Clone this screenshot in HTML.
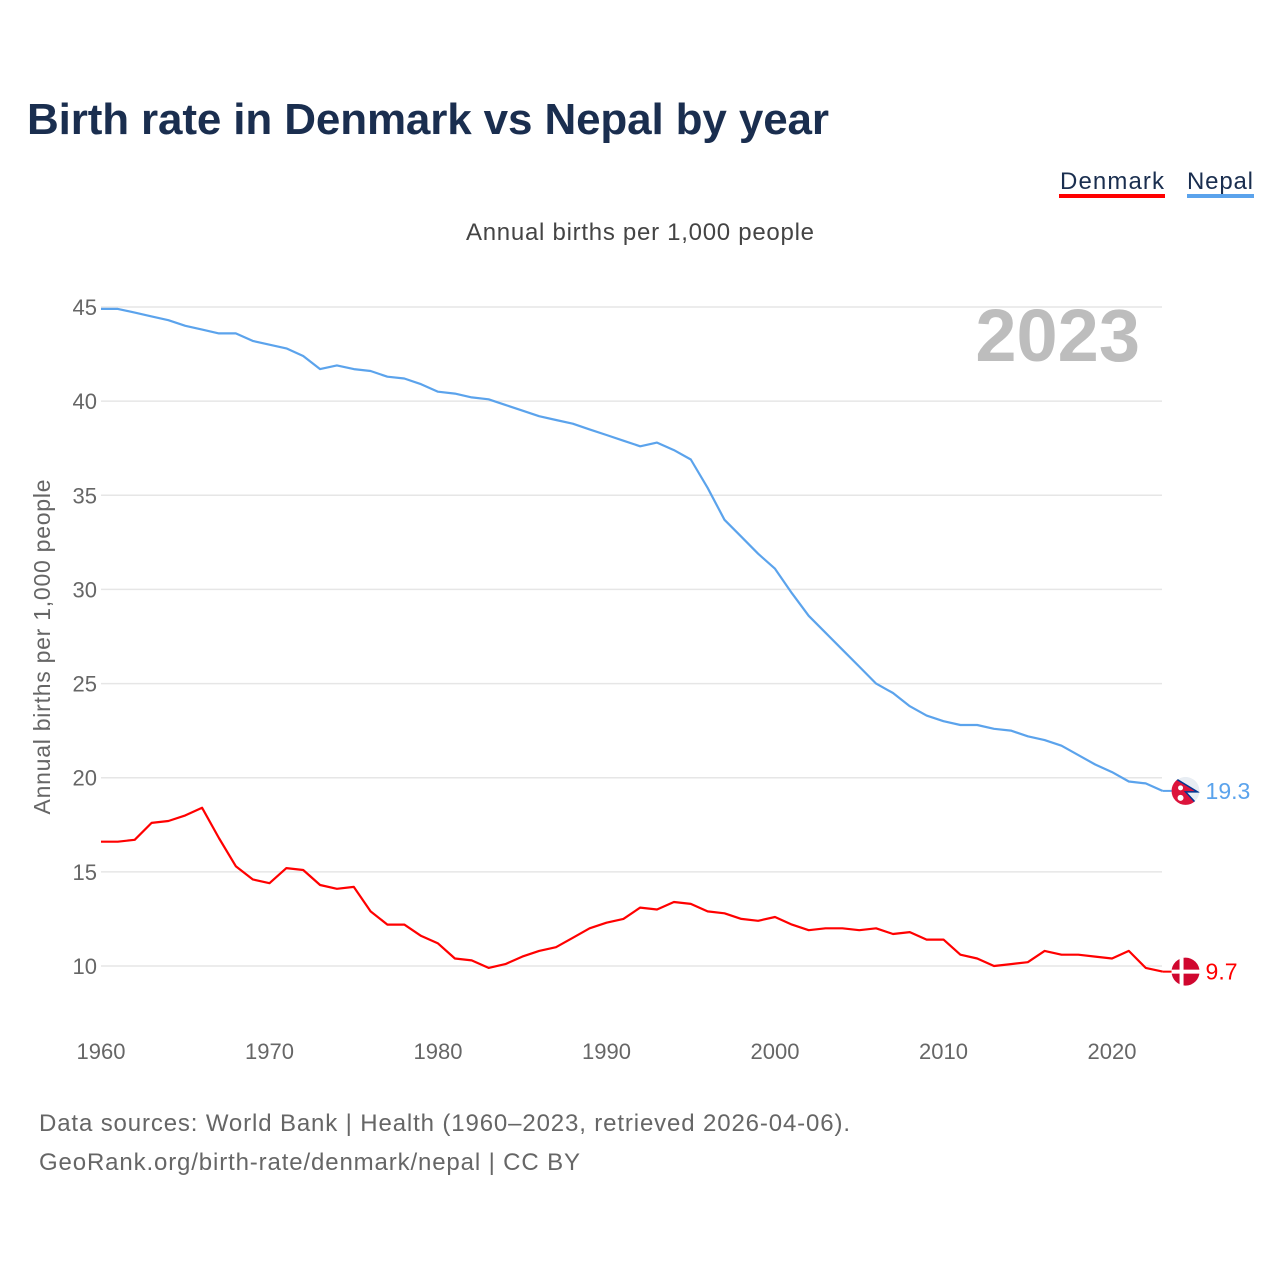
<!DOCTYPE html>
<html><head><meta charset="utf-8"><style>
body{margin:0;background:#fff;font-family:"Liberation Sans",sans-serif}
</style></head><body>
<svg id="chart" width="1280" height="1280" xmlns="http://www.w3.org/2000/svg" font-family="Liberation Sans, sans-serif">
<defs><clipPath id="npclip"><circle id="npcc" r="14"/></clipPath></defs>
<rect width="1280" height="1280" fill="#fff"/>
<text x="27" y="134" font-size="44" font-weight="bold" fill="#1a2e4f" textLength="802">Birth rate in Denmark vs Nepal by year</text>
<g><text x="1164" y="189" font-size="24" fill="#1a2e4f" text-anchor="end" textLength="104">Denmark</text><rect x="1059" y="194" width="106" height="4" fill="#ff0000"/></g>
<g><text x="1253" y="189" font-size="24" fill="#1a2e4f" text-anchor="end" textLength="66">Nepal</text><rect x="1187" y="194" width="67" height="4" fill="#5ba3ec"/></g>
<text x="640" y="240" font-size="24" fill="#444" text-anchor="middle" textLength="348">Annual births per 1,000 people</text>
<text transform="translate(50,647) rotate(-90)" font-size="23" fill="#666" text-anchor="middle" textLength="335">Annual births per 1,000 people</text>
<text x="1140" y="361" font-size="74" font-weight="bold" fill="#bdbdbd" text-anchor="end">2023</text>
<g id="grid"></g><g id="xt"></g><g id="lines"></g>
<text x="39" y="1131" font-size="24" fill="#666" textLength="811">Data sources: World Bank | Health (1960–2023, retrieved 2026-04-06).</text>
<text x="39" y="1170" font-size="24" fill="#666" textLength="541">GeoRank.org/birth-rate/denmark/nepal | CC BY</text>
</svg>
<script>
const years=[];for(let y=1960;y<=2023;y++)years.push(y);
const yTicks=[10,15,20,25,30,35,40,45];
const xTicks=[1960,1970,1980,1990,2000,2010,2020];
const denmark=[16.6,16.6,16.7,17.6,17.7,18.0,18.4,16.8,15.3,14.6,14.4,15.2,15.1,14.3,14.1,14.2,12.9,12.2,12.2,11.6,11.2,10.4,10.3,9.9,10.1,10.5,10.8,11.0,11.5,12.0,12.3,12.5,13.1,13.0,13.4,13.3,12.9,12.8,12.5,12.4,12.6,12.2,11.9,12.0,12.0,11.9,12.0,11.7,11.8,11.4,11.4,10.6,10.4,10.0,10.1,10.2,10.8,10.6,10.6,10.5,10.4,10.8,9.9,9.7];
const nepal=[44.9,44.9,44.7,44.5,44.3,44.0,43.8,43.6,43.6,43.2,43.0,42.8,42.4,41.7,41.9,41.7,41.6,41.3,41.2,40.9,40.5,40.4,40.2,40.1,39.8,39.5,39.2,39.0,38.8,38.5,38.2,37.9,37.6,37.8,37.4,36.9,35.4,33.7,32.8,31.9,31.1,29.8,28.6,27.7,26.8,25.9,25.0,24.5,23.8,23.3,23.0,22.8,22.8,22.6,22.5,22.2,22.0,21.7,21.2,20.7,20.3,19.8,19.7,19.3];
const NS="http://www.w3.org/2000/svg";
const X=y=>101+(y-1960)*(1112-101)/60;
const Y=v=>966-(v-10)*(966-307)/35;
function mk(t,a,p){const e=document.createElementNS(NS,t);for(const k in a)e.setAttribute(k,a[k]);p.appendChild(e);return e;}
const grid=document.getElementById('grid');
yTicks.forEach(v=>{
 const l=mk('line',{x1:101,x2:1162,y1:Y(v),y2:Y(v),stroke:'#e6e6e6','stroke-width':1.5},grid);
 
 
 const t=mk('text',{x:97,y:Y(v)+8,'font-size':22,fill:'#666','text-anchor':'end'},grid);t.textContent=v;
 
 
});
const xt=document.getElementById('xt');
xTicks.forEach(v=>{
 const t=mk('text',{x:X(v),y:1059,'font-size':22,fill:'#666','text-anchor':'middle'},xt);t.textContent=v;
 
 
});
const lines=document.getElementById('lines');
function series(d,c,name){
 const p=mk('path',{d:d.map((v,i)=>(i?'L':'M')+X(years[i]).toFixed(1)+','+Y(v).toFixed(1)).join(''),fill:'none',stroke:c,'stroke-width':2.2,'stroke-linejoin':'round'},lines);
 
 
 const lx=X(2023),ly=Y(d[d.length-1]);
 mk('line',{x1:lx,x2:lx+10,y1:ly,y2:ly,stroke:c,'stroke-width':2},lines);
 const t=mk('text',{x:lx+43,y:ly+8,'font-size':23,fill:c},lines);t.textContent=d[d.length-1];
 
 
 return [lx+23,ly];
}
const [nx,ny]=series(nepal,'#5ba3ec','nepal-line');
const [dx,dy]=series(denmark,'#ff0000','denmark-line');
const cc=document.getElementById('npcc');cc.setAttribute('cx',nx);cc.setAttribute('cy',ny);
const nf=mk('g',{'clip-path':'url(#npclip)'},lines);


mk('circle',{cx:nx,cy:ny,r:14,fill:'#e8edf3'},nf);
mk('path',{d:`M${nx-16},${ny-16}L${nx+12},${ny+1}L${nx},${ny+1}L${nx+14},${ny+16}L${nx-16},${ny+16}Z`,fill:'#dc143c',stroke:'#003893','stroke-width':1.5},nf);
mk('circle',{cx:nx-5,cy:ny-3,r:2.5,fill:'#fff'},nf);
mk('circle',{cx:nx-5,cy:ny+7,r:3,fill:'#fff'},nf);
const df=mk('g',{},lines);


mk('circle',{cx:dx,cy:dy,r:14,fill:'#d0072f'},df);
mk('rect',{x:dx-14,y:dy-2,width:28,height:4,fill:'#fff'},df);
mk('rect',{x:dx-6,y:dy-14,width:4,height:28,fill:'#fff'},df);
</script>
</body></html>
